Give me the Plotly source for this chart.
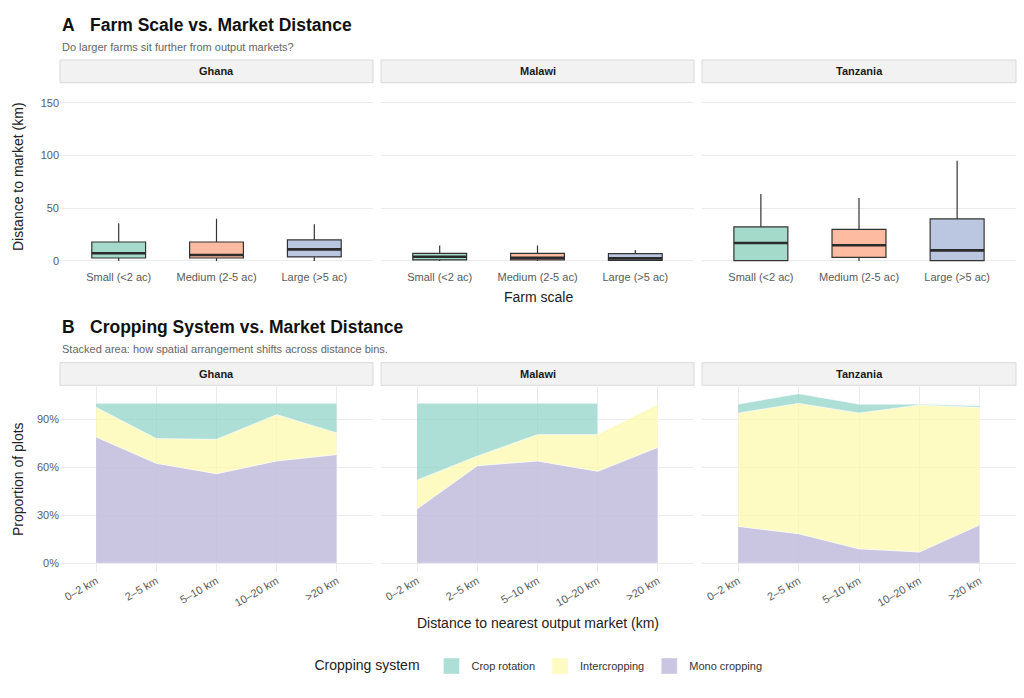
import plotly.graph_objects as go

# ---- data ----
countries = ["Ghana", "Malawi", "Tanzania"]
farm_scales = ["Small (<2 ac)", "Medium (2-5 ac)", "Large (>5 ac)"]
scale_colors = ["rgba(102,194,165,0.6)", "rgba(252,141,98,0.6)", "rgba(141,160,203,0.6)"]
dist_ticks = [0, 50, 100, 150]

# box summaries per country, order: small, medium, large
box_lower = {"Ghana": [0, 0, 0], "Malawi": [0, 0, 0], "Tanzania": [0, 0, 0]}
box_q1 = {"Ghana": [2.8, 2.8, 3.8], "Malawi": [1.0, 1.0, 0.6], "Tanzania": [0.3, 3.5, 0.3]}
box_median = {"Ghana": [7.3, 5.7, 11.0], "Malawi": [4.0, 3.0, 2.5], "Tanzania": [17.1, 14.9, 10.1]}
box_q3 = {"Ghana": [18.0, 18.0, 20.0], "Malawi": [7.3, 7.3, 7.0], "Tanzania": [32.3, 30.0, 39.9]}
box_upper = {"Ghana": [35.8, 40.0, 34.8], "Malawi": [14.6, 14.6, 10.4], "Tanzania": [63.6, 59.8, 95.0]}

distance_bins = ["0\u20132 km", "2\u20135 km", "5\u201310 km", "10\u201320 km", ">20 km"]
prop_ticks = [0, 30, 60, 90]
prop_tick_labels = ["0%", "30%", "60%", "90%"]
systems = ["Mono cropping", "Intercropping", "Crop rotation"]  # stacking order, bottom first
legend_order = ["Crop rotation", "Intercropping", "Mono cropping"]
system_colors = {
    "Crop rotation": "rgba(141,211,199,0.72)",
    "Intercropping": "rgba(252,248,170,0.72)",
    "Mono cropping": "rgba(190,186,218,0.82)",
}
# proportion of plots (%) per distance bin
mono = {"Ghana": [79, 62.5, 56, 64, 68], "Malawi": [34, 61, 64, 57.5, 72.5], "Tanzania": [23, 18.5, 9, 7, 24]}
inter = {"Ghana": [18.5, 15.5, 21.5, 29, 13.5], "Malawi": [18, 6, 16.5, 23, 27], "Tanzania": [71, 81.5, 85, 92, 73.5]}
rotation = {"Ghana": [2.5, 22, 22.5, 7, 18.5], "Malawi": [48, 33, 19.5, 19.5, None], "Tanzania": [5.5, 6, 5.5, 0.5, 1]}
shares = {"Mono cropping": mono, "Intercropping": inter, "Crop rotation": rotation}

# ---- layout helpers ----
W, H = 1024, 698
FONT = "Liberation Sans, Arial, sans-serif"


def fx(px):
    return px / W


def fy(py):
    return 1 - py / H


col_px = [(60, 373), (381, 694), (702, 1016)]
top_px = (85, 269.4)
bot_px = (385.3, 571.7)

fig = go.Figure()

# ---- panel A: boxes ----
for c, country in enumerate(countries):
    ax = "" if c == 0 else str(c + 1)
    for i, scale in enumerate(farm_scales):
        fig.add_trace(go.Box(
            x=[scale], q1=[box_q1[country][i]], median=[box_median[country][i]],
            q3=[box_q3[country][i]], lowerfence=[box_lower[country][i]],
            upperfence=[box_upper[country][i]],
            fillcolor=scale_colors[i], line=dict(color="#333333", width=1.2),
            width=0.55, whiskerwidth=0, showlegend=False, hoverinfo="skip",
            xaxis="x" + ax, yaxis="y" + ax,
        ))
        # thicker median line
        m = box_median[country][i]
        fig.add_trace(go.Box(
            x=[scale], q1=[m], median=[m], q3=[m], lowerfence=[m], upperfence=[m],
            fillcolor="rgba(0,0,0,0)", line=dict(color="#2b2b2b", width=2.6),
            width=0.55, whiskerwidth=0, showlegend=False, hoverinfo="skip",
            xaxis="x" + ax, yaxis="y" + ax,
        ))

# ---- panel B: stacked areas ----
for c, country in enumerate(countries):
    ax = str(c + 4)
    base = [0.0] * len(distance_bins)
    for s in systems:
        vals = shares[s][country]
        idx = [k for k, v in enumerate(vals) if v is not None]
        lower = [base[k] for k in idx]
        upper = [base[k] + vals[k] for k in idx]
        xs = [distance_bins[k] for k in idx]
        fig.add_trace(go.Scatter(
            x=xs + xs[::-1], y=upper + lower[::-1], mode="lines", fill="toself",
            fillcolor=system_colors[s], line=dict(color="rgba(255,255,255,0.7)", width=0.7),
            name=s, showlegend=False, hoverinfo="skip", xaxis="x" + ax, yaxis="y" + ax,
        ))
        for k in idx:
            base[k] += vals[k]

# legend keys
for s in legend_order:
    fig.add_trace(go.Scatter(
        x=[None], y=[None], mode="markers", name=s,
        marker=dict(symbol="square", size=16, color=system_colors[s],
                    line=dict(color="rgba(255,255,255,0.8)", width=0.5)),
        xaxis="x4", yaxis="y4",
    ))

axis_common = dict(
    showline=False, zeroline=False, ticks="", gridcolor="#EBEBEB", gridwidth=1,
    automargin=False, tickfont=dict(family=FONT, size=11, color="#5a5a5a"),
)
layout = dict(
    width=W, height=H, margin=dict(l=0, r=0, t=0, b=0, autoexpand=False),
    paper_bgcolor="white", plot_bgcolor="white", boxmode="overlay",
    font=dict(family=FONT, color="#222222"),
    legend=dict(
        orientation="h", x=fx(540), xanchor="center", y=fy(666), yanchor="middle",
        title=dict(text="Cropping system ", font=dict(size=14, color="#222222"), side="left"),
        font=dict(size=11, color="#333333"), traceorder="normal",
    ),
)

for c in range(3):
    x0, x1 = col_px[c]
    n = "" if c == 0 else str(c + 1)
    layout["xaxis" + n] = dict(
        axis_common, domain=[fx(x0), fx(x1)], anchor="y" + n,
        type="category", categoryorder="array", categoryarray=farm_scales,
        range=[-0.6, 2.6], showgrid=False,
    )
    layout["yaxis" + n] = dict(
        axis_common, domain=[fy(top_px[1]), fy(top_px[0])], anchor="x" + n,
        range=[-8, 167], tickmode="array", tickvals=dist_ticks,
        showticklabels=(c == 0),
    )
    m = str(c + 4)
    layout["xaxis" + m] = dict(
        axis_common, domain=[fx(x0), fx(x1)], anchor="y" + m,
        type="category", categoryorder="array", categoryarray=distance_bins,
        range=[-0.6, 4.6], tickangle=-30, showgrid=True,
    )
    layout["yaxis" + m] = dict(
        axis_common, domain=[fy(bot_px[1]), fy(bot_px[0])], anchor="x" + m,
        range=[-5.3, 111.3], tickmode="array", tickvals=prop_ticks,
        ticktext=prop_tick_labels, showticklabels=(c == 0),
    )

fig.update_layout(**layout)

# ---- strips, titles ----
shapes = []
annotations = []
for strip_top, strip_bot in [(60, 82.7), (362.7, 385.3)]:
    for c, country in enumerate(countries):
        x0, x1 = col_px[c]
        shapes.append(dict(
            type="rect", xref="paper", yref="paper", x0=fx(x0), x1=fx(x1),
            y0=fy(strip_bot), y1=fy(strip_top), fillcolor="#F2F2F2",
            line=dict(color="#D9D9D9", width=1), layer="below",
        ))
        annotations.append(dict(
            text="<b>%s</b>" % country, xref="paper", yref="paper",
            x=fx((x0 + x1) / 2), y=fy((strip_top + strip_bot) / 2),
            showarrow=False, font=dict(size=11, color="#1a1a1a"),
            xanchor="center", yanchor="middle",
        ))


def add_text(text, x, y, size, color="#222222", xanchor="left", angle=0):
    annotations.append(dict(
        text=text, xref="paper", yref="paper", x=fx(x), y=fy(y), showarrow=False,
        font=dict(size=size, color=color), xanchor=xanchor, yanchor="middle",
        textangle=angle,
    ))


add_text("<b>A</b>", 60, 25, 17.5, "#111111")
add_text("<b>Farm Scale vs. Market Distance</b>", 87.5, 25, 17.5, "#111111")
add_text("Do larger farms sit further from output markets?", 60, 46.5, 11, "#666666")
add_text("<b>B</b>", 60, 327, 17.5, "#111111")
add_text("<b>Cropping System vs. Market Distance</b>", 87.5, 327, 17.5, "#111111")
add_text("Stacked area: how spatial arrangement shifts across distance bins.", 60, 349, 11, "#666666")
add_text("Distance to market (km)", 18, 177, 14, xanchor="center", angle=-90)
add_text("Proportion of plots", 18, 479, 14, xanchor="center", angle=-90)
add_text("Farm scale", 538, 297, 14, xanchor="center")
add_text("Distance to nearest output market (km)", 538, 623, 14, xanchor="center")

fig.update_layout(shapes=shapes, annotations=annotations)

# page body has a default 8px margin; drop it so the figure fills the window
fig.write_html("out.html", config={"displayModeBar": False},
               post_script="document.body.style.margin = '0';")
